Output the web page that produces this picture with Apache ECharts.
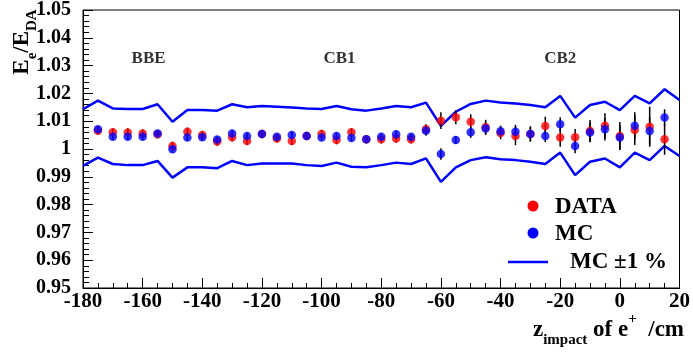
<!DOCTYPE html>
<html><head><meta charset="utf-8">
<script src="https://cdn.jsdelivr.net/npm/echarts@6/dist/echarts.min.js"></script>
<style>html,body{margin:0;padding:0;background:#fff}#c{width:693px;height:352px}</style>
</head><body><div id="c"></div><script>
const zPos = [-175,-170,-165,-160,-155,-150,-145,-140,-135,-130,-125,-120,-115,-110,-105,-100,-95,-90,-85,-80,-75,-70,-65,-60,-55,-50,-45,-40,-35,-30,-25,-20,-15,-10,-5,0,5,10,15];
const dataVals = [1.0066,1.0060,1.0059,1.0056,1.0053,1.0011,1.0062,1.0050,1.0027,1.0042,1.0029,1.0054,1.0038,1.0029,1.0047,1.0054,1.0032,1.0060,1.0035,1.0035,1.0038,1.0035,1.0071,1.0102,1.0114,1.0098,1.0078,1.0058,1.0047,1.0054,1.0083,1.0041,1.0042,1.0065,1.0084,1.0047,1.0068,1.0080,1.0035];
const mcVals = [1.0071,1.0044,1.0044,1.0044,1.0056,0.9999,1.0041,1.0042,1.0034,1.0056,1.0047,1.0054,1.0044,1.0050,1.0047,1.0041,1.0047,1.0040,1.0035,1.0044,1.0053,1.0044,1.0066,0.9982,1.0032,1.0060,1.0074,1.0064,1.0062,1.0054,1.0047,1.0089,1.0011,1.0059,1.0071,1.0041,1.0084,1.0065,1.0113];
const dataErr = [0.0015,0.0015,0.0015,0.0015,0.0015,0.0015,0.0015,0.0015,0.0015,0.0015,0.0015,0.0015,0.0015,0.0015,0.0015,0.0015,0.0015,0.0015,0.0015,0.0015,0.0015,0.0015,0.0018,0.0030,0.0025,0.0027,0.0027,0.0023,0.0033,0.0028,0.0033,0.0033,0.0030,0.0039,0.0045,0.0050,0.0054,0.0072,0.0056];
const mcErr = [0.0012,0.0012,0.0012,0.0012,0.0012,0.0012,0.0012,0.0012,0.0012,0.0012,0.0012,0.0012,0.0012,0.0012,0.0012,0.0012,0.0012,0.0012,0.0012,0.0012,0.0012,0.0012,0.0018,0.0021,0.0014,0.0020,0.0022,0.0020,0.0025,0.0025,0.0022,0.0025,0.0026,0.0035,0.0040,0.0045,0.0048,0.0050,0.0030];
const bandZ = [-180,-175,-170,-165,-160,-155,-150,-145,-140,-135,-130,-125,-120,-115,-110,-105,-100,-95,-90,-85,-80,-75,-70,-65,-60,-55,-50,-45,-40,-35,-30,-25,-20,-15,-10,-5,0,5,10,15,20];
const bandUp = [1.0143,1.0174,1.0146,1.0144,1.0144,1.0161,1.0098,1.0140,1.0140,1.0138,1.0161,1.0150,1.0155,1.0152,1.0149,1.0146,1.0144,1.0155,1.0143,1.0138,1.0146,1.0155,1.0150,1.0167,1.0083,1.0134,1.0162,1.0174,1.0167,1.0164,1.0158,1.0150,1.0191,1.0113,1.0158,1.0170,1.0140,1.0191,1.0164,1.0215,1.0176];
const bandLo = [0.9939,0.9969,0.9946,0.9942,0.9942,0.9957,0.9897,0.9934,0.9934,0.9931,0.9957,0.9942,0.9948,0.9948,0.9948,0.9942,0.9939,0.9951,0.9936,0.9934,0.9942,0.9951,0.9946,0.9966,0.9882,0.9934,0.9960,0.9970,0.9963,0.9960,0.9954,0.9946,0.9987,0.9906,0.9954,0.9966,0.9934,0.9987,0.9960,1.0011,0.9975];
const regionNames = ['BBE','CB1','CB2'];
const regionZ = [-158,-94,-20];
const regionY = [1.0325,1.0325,1.0325];
const xTicks = {min:-180, max:20, step:20};
const yTicks = {min:0.95, max:1.05, step:0.01};

const SERIF = "'Liberation Serif','Times New Roman',serif";
const chart = echarts.init(document.getElementById('c'), null, {renderer:'canvas'});

function errSeries(name, vals, errs){
  return {
    type:'custom', name:name, z:2, clip:true,
    encode:{x:0,y:1},
    renderItem:(params, api)=>{
      const x=api.value(0), y=api.value(1), e=api.value(2);
      const p1=api.coord([x,y-e]), p2=api.coord([x,y+e]);
      return {type:'line', shape:{x1:p1[0],y1:p1[1],x2:p2[0],y2:p2[1]}, style:{stroke:'#000',lineWidth:1.5}};
    },
    data: zPos.map((x,i)=>[x,vals[i],errs[i]])
  };
}

const option = {
  backgroundColor:'#fff',
  animation:false,
  grid:{left:83,right:10,top:10,bottom:64,show:true,borderColor:'#000',borderWidth:1,backgroundColor:'transparent'},
  xAxis:{type:'value',min:xTicks.min,max:xTicks.max,interval:xTicks.step,
    axisLine:{onZero:false,lineStyle:{color:'#000',width:1}},
    axisTick:{inside:true,length:10,lineStyle:{color:'#000'}},
    minorTick:{show:true,splitNumber:4,length:5,lineStyle:{color:'#000'}},
    splitLine:{show:false},
    axisLabel:{color:'#000',fontFamily:SERIF,fontWeight:'bold',fontSize:21,margin:3}},
  yAxis:{type:'value',min:yTicks.min,max:yTicks.max,interval:yTicks.step,
    axisLine:{onZero:false,lineStyle:{color:'#000',width:1}},
    axisTick:{inside:true,length:10,lineStyle:{color:'#000'}},
    minorTick:{show:true,splitNumber:5,length:6,lineStyle:{color:'#000'}},
    splitLine:{show:false},
    axisLabel:{color:'#000',fontFamily:SERIF,fontWeight:'bold',fontSize:20,margin:12,
      formatter:v=>String(+v.toFixed(2))}},
  series:[
    {type:'line',name:'MC +1%',data:bandZ.map((x,i)=>[x,bandUp[i]]),showSymbol:false,symbol:'none',lineStyle:{color:'#0000ff',width:2.5},z:1},
    {type:'line',name:'MC -1%',data:bandZ.map((x,i)=>[x,bandLo[i]]),showSymbol:false,symbol:'none',lineStyle:{color:'#0000ff',width:2.5},z:1},
    errSeries('DATA err',dataVals,dataErr),
    errSeries('MC err',mcVals,mcErr),
    {type:'scatter',name:'DATA',data:zPos.map((x,i)=>[x,dataVals[i]]),symbol:'circle',symbolSize:8.5,itemStyle:{color:'#ff0000'},z:3},
    {type:'scatter',name:'MC',data:zPos.map((x,i)=>[x,mcVals[i]]),symbol:'circle',symbolSize:8.5,itemStyle:{color:'#0000ff'},z:4},
    {type:'scatter',name:'regions',symbolSize:0,silent:true,
      data:regionNames.map((n,i)=>({name:n,value:[regionZ[i],regionY[i]]})),
      label:{show:true,position:'inside',formatter:p=>p.name,color:'#000',fontFamily:SERIF,fontWeight:'bold',fontSize:17}}
  ],
  graphic:[
    {type:'text',x:22,y:42,rotation:Math.PI/2,style:{
      text:'{m|E}{s|e}{m|/E}{s|DA}',align:'center',verticalAlign:'middle',
      rich:{m:{fontFamily:SERIF,fontWeight:'bold',fontSize:23,fill:'#000',lineHeight:24},
            s:{fontFamily:SERIF,fontWeight:'bold',fontSize:15,fill:'#000',verticalAlign:'bottom',padding:[0,0,-6,0]}}}},
    {type:'text',x:684,y:330,style:{
      text:'{m|z}{s|impact}{m| of e}{p|+}{m|  /cm}',align:'right',verticalAlign:'middle',
      rich:{m:{fontFamily:SERIF,fontWeight:'bold',fontSize:23,fill:'#000',lineHeight:24},
            s:{fontFamily:SERIF,fontWeight:'bold',fontSize:15,fill:'#000',verticalAlign:'bottom',padding:[0,0,-6,0]},
            p:{fontFamily:SERIF,fontWeight:'bold',fontSize:15,fill:'#000',verticalAlign:'top',padding:[-6,0,0,0]}}}},
    {type:'circle',shape:{cx:533,cy:206,r:5.5},style:{fill:'#ff0000'}},
    {type:'text',x:555,y:207,style:{text:'DATA',fontFamily:SERIF,fontWeight:'bold',fontSize:23,fill:'#000',verticalAlign:'middle'}},
    {type:'circle',shape:{cx:533,cy:233,r:5.5},style:{fill:'#0000ff'}},
    {type:'text',x:555,y:234,style:{text:'MC',fontFamily:SERIF,fontWeight:'bold',fontSize:23,fill:'#000',verticalAlign:'middle'}},
    {type:'line',shape:{x1:508,y1:262,x2:548,y2:262},style:{stroke:'#0000ff',lineWidth:2.5}},
    {type:'text',x:570,y:262,style:{text:'MC \u00b11 %',fontFamily:SERIF,fontWeight:'bold',fontSize:23,fill:'#000',verticalAlign:'middle'}}
  ]
};
chart.setOption(option);
</script></body></html>
